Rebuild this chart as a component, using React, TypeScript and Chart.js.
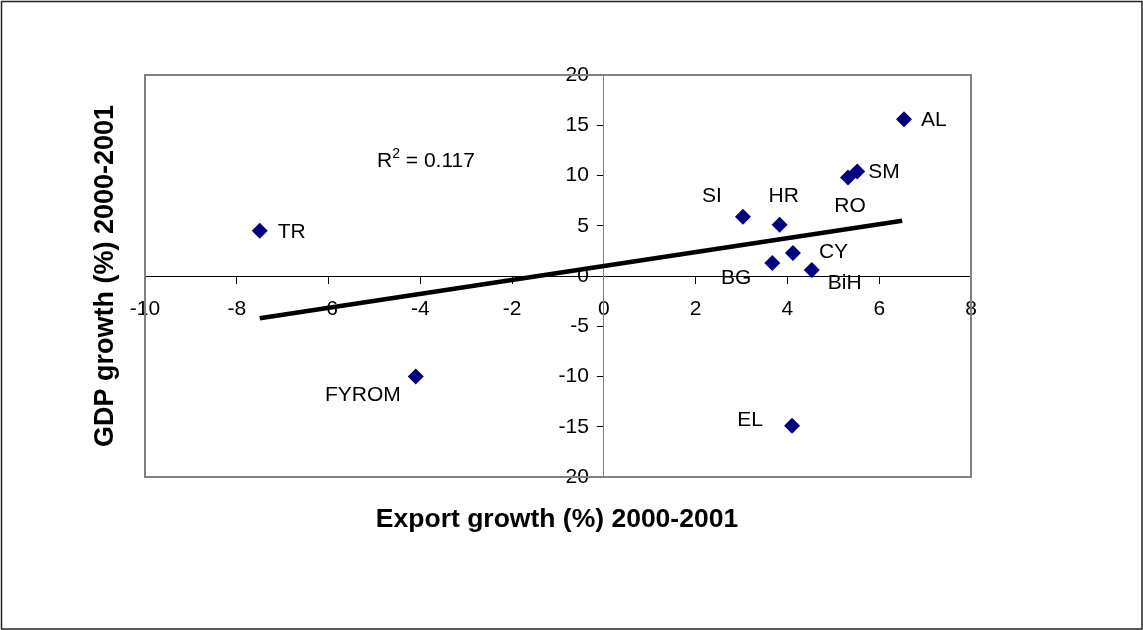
import React, { useEffect, useRef } from 'react';
import { Chart, registerables } from 'chart.js';

Chart.register(...registerables);

// ---- data ----
const countries = ['TR', 'FYROM', 'EL', 'SI', 'HR', 'BG', 'CY', 'BiH', 'RO', 'SM', 'AL'];
const exportGrowth = [-7.5, -4.1, 4.1, 3.03, 3.83, 3.67, 4.12, 4.53, 5.32, 5.52, 6.54];
const gdpGrowth = [4.5, -10.0, -14.9, 5.9, 5.1, 1.3, 2.3, 0.6, 9.8, 10.4, 15.6];
const trendX = [-7.5, 6.5];
const trendY = [-4.2, 5.5];
const rSquared = '0.117';
const xTitle = 'Export growth (%) 2000-2001';
const yTitle = 'GDP growth (%) 2000-2001';

// ---- label placement (style) ----
const labelOffsets: [number, number, CanvasTextAlign][] = [
  [18, 1, 'left'],     // TR
  [-15, 19, 'right'],  // FYROM
  [-29, -6, 'right'],  // EL
  [-21, -21, 'right'], // SI
  [4, -29, 'center'],  // HR
  [-21, 15, 'right'],  // BG
  [26, -1, 'left'],    // CY
  [16, 13, 'left'],    // BiH
  [2, 29, 'center'],   // RO
  [11, 1, 'left'],     // SM
  [17, 1, 'left'],     // AL
];

const FONT = '"Liberation Sans", Arial, sans-serif';

const decorPlugin = {
  id: 'decor',
  beforeDraw(chart: any) {
    // place the vertical axis where x = 0 (crossing axes)
    const xs = chart.scales.x;
    const ys = chart.scales.y;
    const px = xs.getPixelForValue(0);
    ys.right = px;
    ys.left = px - 80;
    ys.width = 80;
    ys._gridLineItems = null;
    ys._labelItems = null;
  },
  beforeDatasetsDraw(chart: any) {
    const { ctx, chartArea } = chart;
    ctx.save();
    ctx.strokeStyle = '#808080';
    ctx.lineWidth = 2;
    ctx.strokeRect(chartArea.left, chartArea.top, chartArea.right - chartArea.left, chartArea.bottom - chartArea.top);
    ctx.restore();
  },
  afterDraw(chart: any) {
    const { ctx, chartArea, width, height } = chart;
    ctx.save();
    // outer frame
    ctx.strokeStyle = '#222';
    ctx.lineWidth = 1.5;
    ctx.strokeRect(1.5, 1.5, width - 2.5, height - 2.5);

    // point labels
    const meta = chart.getDatasetMeta(0);
    ctx.fillStyle = '#000';
    ctx.font = `21px ${FONT}`;
    ctx.textBaseline = 'middle';
    meta.data.forEach((el: any, i: number) => {
      const [dx, dy, align] = labelOffsets[i];
      ctx.textAlign = align;
      ctx.fillText(countries[i], el.x + dx, el.y + dy);
    });

    // R^2 annotation
    const rx = chartArea.left + 232;
    const ry = chartArea.top + 92;
    ctx.textAlign = 'left';
    ctx.textBaseline = 'alphabetic';
    ctx.font = `21px ${FONT}`;
    ctx.fillText('R', rx, ry);
    const rw = ctx.measureText('R').width;
    ctx.font = `14px ${FONT}`;
    ctx.fillText('2', rx + rw, ry - 9);
    const sw = ctx.measureText('2').width;
    ctx.font = `21px ${FONT}`;
    ctx.fillText(' = ' + rSquared, rx + rw + sw, ry);

    // axis titles
    ctx.font = `bold 26.5px ${FONT}`;
    ctx.textAlign = 'center';
    ctx.textBaseline = 'middle';
    ctx.fillText(xTitle, (chartArea.left + chartArea.right) / 2 - 1, chartArea.bottom + 43);
    ctx.translate(106, (chartArea.top + chartArea.bottom) / 2);
    ctx.rotate(-Math.PI / 2);
    ctx.font = `bold 27px ${FONT}`;
    ctx.fillText(yTitle, 0, 0);
    ctx.restore();
  },
};

export default function App() {
  const ref = useRef<HTMLCanvasElement>(null);
  useEffect(() => {
    if (!ref.current) return;
    const chart = new Chart(ref.current, {
      type: 'scatter',
      data: {
        datasets: [
          {
            label: 'Countries',
            data: exportGrowth.map((x, i) => ({ x, y: gdpGrowth[i] })),
            backgroundColor: '#000080',
            borderColor: '#000080',
            pointStyle: 'rectRot',
            pointRadius: 8,
            pointHoverRadius: 8,
            borderWidth: 0,
          },
          {
            label: 'Trend',
            data: trendX.map((x, i) => ({ x, y: trendY[i] })),
            showLine: true,
            borderColor: '#000',
            borderWidth: 4.5,
            pointRadius: 0,
            pointHoverRadius: 0,
            fill: false,
          } as any,
        ],
      },
      options: {
        animation: false,
        responsive: false,
        devicePixelRatio: 1,
        layout: { padding: { left: 145, top: 75, right: 172, bottom: 153 } },
        plugins: { legend: { display: false }, tooltip: { enabled: false }, title: { display: false } },
        scales: {
          x: {
            type: 'linear',
            min: -10,
            max: 8,
            position: { y: 0 } as any,
            afterFit: (s: any) => { s.height = 0; },
            ticks: { stepSize: 2, color: '#000', font: { family: FONT, size: 21 }, padding: 14 },
            grid: { display: true, drawOnChartArea: false, drawTicks: true, tickLength: 7, color: '#000' },
            border: { display: true, color: '#000', width: 1 },
          },
          y: {
            type: 'linear',
            min: -20,
            max: 20,
            position: 'left',
            afterFit: (s: any) => { s.width = 0; },
            ticks: { stepSize: 5, color: '#000', font: { family: FONT, size: 21 }, padding: 8 },
            grid: { display: true, drawOnChartArea: false, drawTicks: true, tickLength: 7, color: '#000' },
            border: { display: true, color: '#808080', width: 1 },
          },
        },
      },
      plugins: [decorPlugin],
    });
    return () => chart.destroy();
  }, []);
  return (
    <div style={{ position: 'fixed', left: 0, top: 0, width: 1143, height: 630, background: '#fff' }}>
      <canvas ref={ref} width={1143} height={630} />
    </div>
  );
}
